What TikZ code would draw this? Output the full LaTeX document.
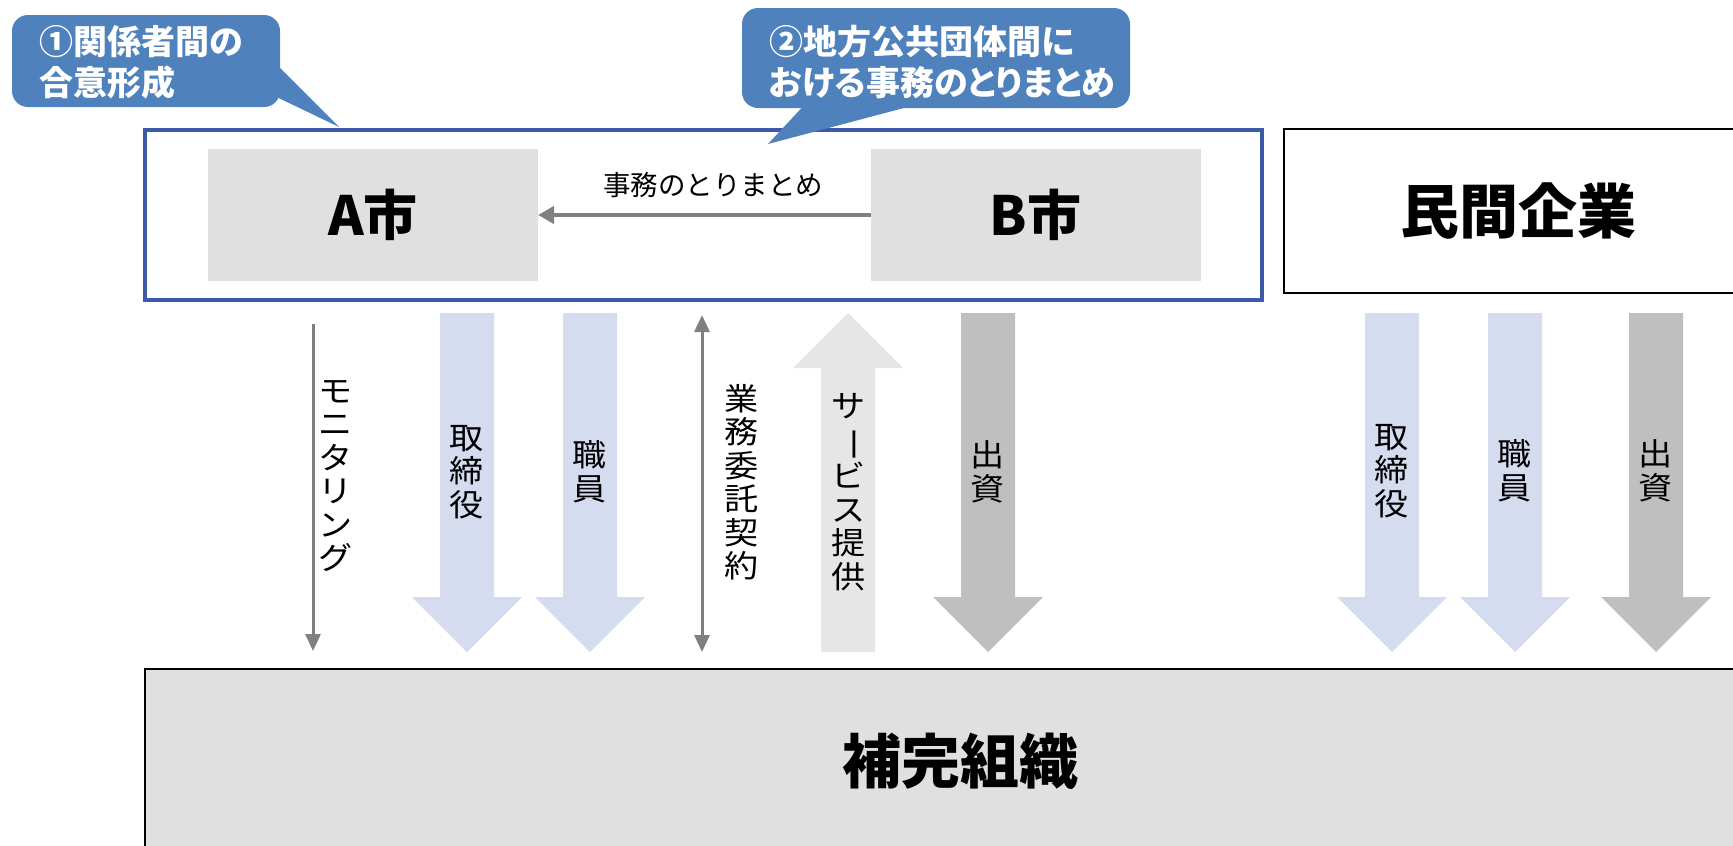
\documentclass[tikz,border=0pt]{standalone}
\usepackage{fontspec}
\usepackage{graphicx}
\usetikzlibrary{arrows.meta}
\newfontfamily\jp{Noto Sans CJK JP}
\newfontfamily\jpp[RawFeature=+palt]{Noto Sans CJK JP}
\newfontfamily\jpv[FakeStretch=1.1]{Noto Sans CJK JP}
\definecolor{cblue}{RGB}{79,129,189}
\definecolor{gblue}{RGB}{61,90,168}
\definecolor{boxgray}{RGB}{224,224,224}
\definecolor{arrgray}{RGB}{128,128,128}
\definecolor{lblue}{RGB}{213,220,240}
\definecolor{mgray}{RGB}{191,191,191}
\definecolor{pgray}{RGB}{231,230,230}
\newcommand{\DownBlk}[2]{\fill[#2] (#1-27,313) -- (#1+27,313) -- (#1+27,597) -- (#1+55,597) -- (#1,652) -- (#1-55,597) -- (#1-27,597) -- cycle;}
\newcommand{\UpBlk}[2]{\fill[#2] (#1-27,652) -- (#1+27,652) -- (#1+27,368) -- (#1+55,368) -- (#1,313) -- (#1-55,368) -- (#1-27,368) -- cycle;}
\begin{document}
\begin{tikzpicture}[x=1pt,y=-1pt,
  calloutbox/.style={fill=cblue, rounded corners=16pt, inner sep=0pt, outer sep=0pt, anchor=north west},
  callouttext/.style={text=white, font=\jpp\bfseries\fontsize{34}{41}\selectfont, align=left, anchor=west, inner sep=0pt},
  citybox/.style={fill=boxgray, minimum width=330pt, minimum height=132pt, inner sep=0pt, outer sep=0pt, font=\jp\bfseries\fontsize{54}{54}\selectfont},
  bigbox/.style={draw=black, line width=2.7pt, inner sep=0pt, outer sep=0pt, anchor=north west, font=\jp\bfseries\fontsize{59}{59}\selectfont},
  vlabel/.style={font=\jpv\fontsize{31}{33.5}\selectfont, align=center, inner sep=0pt},
  hlabel/.style={font=\jp\fontsize{27.5}{30}\selectfont, inner sep=0pt},
  thinarr/.style={draw=arrgray, line width=3pt, -{Triangle[length=17pt,width=15pt]}},
  thindbl/.style={draw=arrgray, line width=3pt, {Triangle[length=17pt,width=15pt]}-{Triangle[length=17pt,width=15pt]}},
  midarr/.style={draw=arrgray, line width=4pt, -{Triangle[length=16pt,width=17pt]}}
]
\useasboundingbox (0,0) rectangle (1733,846);
\clip (0,0) rectangle (1733,846);

% group box of A and B
\node[draw=gblue, line width=4pt, inner sep=0pt, outer sep=0pt, anchor=north west, minimum width=1117pt, minimum height=170pt] (grp) at (145,130) {};
\node[citybox] (A) at (373,215) {A市};
\node[citybox] (B) at (1035.5,215) {B市};
\draw[midarr] (B.west) -- (A.east);
\node[hlabel] (jimu) at (713,185) {事務のとりまとめ};

% private company
\node[bigbox, minimum width=468pt, minimum height=164pt] (min) at (1284,129) {民間企業};

% complementary organisation
\node[bigbox, fill=boxgray, minimum width=1630pt, minimum height=184pt] (hokan) at (145,669) {補完組織};

% callouts
\node[calloutbox, minimum width=268pt, minimum height=92pt] (c1) at (12,15) {};
\coordinate (t1) at (339,127);
\fill[cblue] (270,58) -- (t1) -- (262,90) -- cycle;
\node[callouttext] (c1t) at (39,62) {①関係者間の\\合意形成};

\node[calloutbox, minimum width=388pt, minimum height=100pt] (c2) at (742,8) {};
\coordinate (t2) at (768,144);
\fill[cblue] (809,100) -- (t2) -- (934,100) -- cycle;
\node[callouttext] (c2t) at (769,62) {②地方公共団体間に\\おける事務のとりまとめ};

% thin arrows
\coordinate (monx) at (313,0);
\draw[thinarr, shorten <=24pt, shorten >=18pt] (grp.south -| monx) -- (hokan.north -| monx);
\node[vlabel] (monl) at (336,476) {モ\\ニ\\タ\\リ\\ン\\グ};

\coordinate (itx) at (702,0);
\draw[thindbl, shorten <=15pt, shorten >=17pt] (grp.south -| itx) -- (hokan.north -| itx);
\node[vlabel] (itl) at (742,482) {業\\務\\委\\託\\契\\約};

% block arrows, left group
\DownBlk{467}{lblue}
\node[vlabel] (tl1) at (467,472) {取\\締\\役};
\DownBlk{590}{lblue}
\node[vlabel] (sl1) at (590,472) {職\\員};
\UpBlk{848}{pgray}
\node[vlabel] (sv) at (849,492) {サ\\\rotatebox[origin=c]{-90}{ー}\\ビ\\ス\\提\\供};
\DownBlk{988}{mgray}
\node[vlabel] (ds1) at (988,472) {出\\資};

% block arrows, right group
\DownBlk{1392}{lblue}
\node[vlabel] (tl2) at (1392,471) {取\\締\\役};
\DownBlk{1515}{lblue}
\node[vlabel] (sl2) at (1515,471) {職\\員};
\DownBlk{1656}{mgray}
\node[vlabel] (ds2) at (1656,471) {出\\資};
\end{tikzpicture}
\end{document}
